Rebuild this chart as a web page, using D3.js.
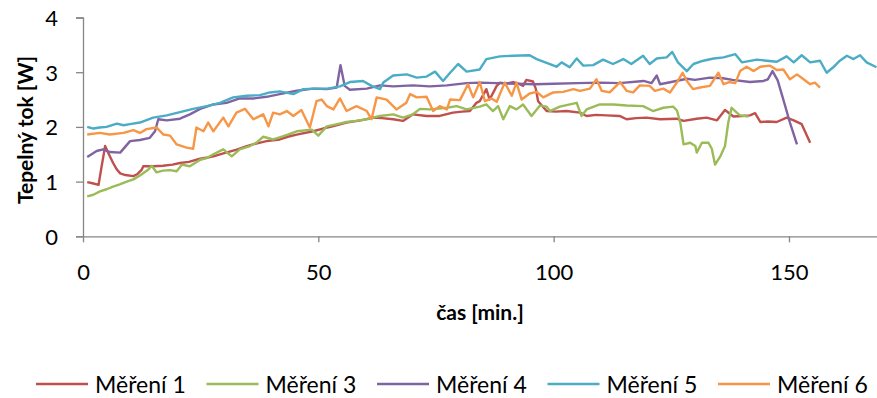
<!DOCTYPE html>
<html>
<head>
<meta charset="utf-8">
<script src="https://cdn.jsdelivr.net/npm/d3@7"></script>
<style>
  body { margin: 0; background: #fff; }
  text { font-family: Lato, "Open Sans", sans-serif; fill: #000; }
</style>
</head>
<body>
<div id="chart"></div>
<script>
// values: [time in min, heat flow in W]
const mereni1 = [[0.9,0.99],[2,0.97],[3.3,0.94],[4,1.3],[4.7,1.65],[5.5,1.5],[6.4,1.34],[7.2,1.22],[7.9,1.15],[9,1.12],[10.7,1.1],[11.6,1.14],[12.5,1.22],[12.8,1.28],[15,1.28],[17,1.29],[19,1.31],[20.6,1.34],[22.5,1.36],[24.9,1.42],[26.5,1.44],[27.7,1.46],[30,1.52],[32.5,1.58],[34.8,1.65],[37,1.7],[39,1.74],[41.8,1.77],[43.5,1.82],[45.4,1.86],[48.9,1.92],[51,1.97],[53,2.01],[56,2.08],[59,2.12],[61.7,2.17],[63.5,2.16],[65.9,2.14],[68,2.11],[70.1,2.23],[73,2.2],[75.8,2.2],[78.6,2.26],[80.5,2.28],[82.2,2.29],[83.6,2.44],[84.3,2.47],[85.7,2.69],[86.4,2.5],[87.9,2.75],[88.6,2.81],[90,2.79],[91.4,2.82],[92.8,2.78],[93.5,2.75],[94.2,2.86],[95.6,2.83],[96.2,2.7],[96.7,2.47],[98.5,2.29],[100.5,2.28],[102.7,2.29],[105.6,2.26],[107,2.2],[109,2.22],[111.2,2.21],[114,2.2],[115.5,2.14],[117.5,2.16],[119.7,2.17],[122.6,2.14],[126.1,2.15],[127.6,2.11],[130.4,2.15],[132.5,2.17],[134.7,2.12],[136.4,2.31],[138.2,2.19],[140,2.2],[141.7,2.21],[142.8,2.25],[143.9,2.09],[145.5,2.1],[147.4,2.09],[149.5,2.17],[151,2.12],[152.7,2.05],[154.5,1.71]]

const mereni3 = [[0.9,0.73],[2.2,0.76],[3.6,0.82],[5,0.86],[6.4,0.91],[7.8,0.95],[9.3,1],[10.7,1.04],[12.1,1.11],[13.9,1.22],[14.6,1.29],[15.6,1.17],[17,1.2],[18.5,1.21],[19.9,1.19],[21,1.31],[22.7,1.28],[24.9,1.4],[26.3,1.43],[27.7,1.5],[29.8,1.59],[31.6,1.46],[33.3,1.59],[35.5,1.65],[37,1.72],[38.3,1.82],[40.4,1.77],[41.8,1.81],[43.5,1.86],[45.4,1.92],[48.6,1.95],[50,1.84],[51.8,2.01],[54,2.05],[56,2.09],[58,2.11],[60.3,2.14],[63.1,2.2],[65.9,2.23],[68,2.17],[70.1,2.23],[71.6,2.33],[73.7,2.32],[77.3,2.35],[79.4,2.38],[81.5,2.32],[84.3,2.37],[85.7,2.41],[87.1,2.29],[88.2,2.38],[89.3,2.14],[90.7,2.38],[92.1,2.32],[93.5,2.41],[95.3,2.2],[97.1,2.39],[98.5,2.37],[99.2,2.29],[101.3,2.37],[104.9,2.44],[105.9,2.2],[107,2.32],[109.8,2.41],[112.7,2.41],[115.5,2.39],[119,2.38],[121.1,2.29],[123.3,2.35],[125.4,2.37],[126.2,2.3],[126.9,2.08],[127.6,1.68],[129,1.71],[130.1,1.65],[130.4,1.53],[131.5,1.71],[132.9,1.71],[133.6,1.6],[134.3,1.31],[135.4,1.46],[136.4,1.65],[137.1,2.08],[137.8,2.35],[138.9,2.26],[139.6,2.21],[141.4,2.19]]

const mereni4 = [[0.9,1.45],[2.9,1.56],[4.3,1.59],[5.7,1.54],[7.9,1.53],[10,1.74],[12.1,1.76],[14.2,1.8],[15.3,1.92],[16,2.14],[17.8,2.12],[20.6,2.15],[22.7,2.23],[24.9,2.33],[27.7,2.41],[30.5,2.44],[33.3,2.52],[36.2,2.52],[39,2.55],[41.8,2.6],[45.4,2.66],[48.9,2.7],[51.8,2.69],[53.9,2.72],[54.7,3.13],[55.6,2.75],[56.7,2.68],[60.3,2.7],[63.1,2.76],[65.9,2.74],[70.1,2.76],[73.7,2.74],[77.3,2.76],[81.5,2.8],[84.3,2.81],[88,2.8],[92,2.79],[96,2.78],[100,2.79],[105,2.8],[110,2.81],[114,2.8],[119.1,2.84],[120.8,2.8],[121.9,2.94],[122.6,2.78],[125,2.82],[128.3,2.88],[130,2.86],[133.2,2.9],[136,2.89],[138,2.86],[141.7,2.82],[144.6,2.84],[145.5,2.87],[146.5,3.02],[147.6,2.85],[148.8,2.5],[150.2,2.08],[151.7,1.68]]

const mereni5 = [[0.9,2],[2.2,1.97],[3.5,1.99],[5,2],[7.2,2.06],[8.6,2.03],[10,2.05],[12.1,2.08],[14.9,2.17],[17.8,2.21],[20.6,2.27],[23.4,2.33],[26.3,2.38],[29.1,2.44],[31.9,2.54],[34.8,2.57],[37.6,2.58],[39.7,2.63],[41.8,2.65],[44.7,2.6],[46.8,2.69],[49.6,2.7],[52,2.7],[54.6,2.74],[56.7,2.82],[59.5,2.84],[61.3,2.75],[63.1,2.69],[63.8,2.81],[65.9,2.94],[68.8,2.96],[70.9,2.9],[73,2.92],[74.8,3.01],[76.5,2.84],[78,2.99],[79.7,3.15],[81.5,3.01],[84.3,3.05],[85.7,3.24],[88.6,3.29],[91.4,3.3],[94.9,3.31],[96.4,3.24],[98.5,3.17],[100.6,3.1],[101.7,3.18],[103.4,3.09],[104.9,3.25],[106.3,3.12],[108.4,3.13],[110.5,3.23],[112.6,3.15],[114.8,3.24],[116.5,3.15],[119,3.3],[120.4,3.15],[121.9,3.25],[124,3.27],[125.2,3.37],[126.4,3.18],[128.3,3.02],[129.7,3.15],[131.8,3.21],[134,3.25],[136.1,3.27],[138.6,3.33],[140,3.18],[143.2,3.23],[145.3,3.21],[147.4,3.19],[149.5,3.29],[151,3.18],[152.7,3.31],[154.5,3.18],[156.6,3.21],[158,2.99],[159.4,3.09],[160.8,3.21],[162.3,3.3],[163.7,3.24],[165.1,3.31],[166.5,3.18],[168.6,3.09]]

const mereni6 = [[0.9,1.86],[3.6,1.89],[5.7,1.86],[8.6,1.89],[10.7,1.94],[12.1,1.89],[13.5,1.96],[15.6,1.99],[17.1,1.86],[18.5,1.84],[19.9,1.68],[22,1.62],[23.4,1.6],[24.1,1.99],[25.6,1.92],[26.6,2.08],[27.7,1.92],[29.8,2.17],[30.9,2.01],[32.6,2.26],[34.4,2.33],[36.2,2.14],[38.3,2.23],[39.4,2.01],[40.4,2.26],[41.8,2.23],[43.3,2.29],[44.7,2.2],[46.4,2.31],[48.2,1.99],[49.6,2.47],[50.7,2.5],[51.8,2.38],[53.2,2.32],[54.6,2.52],[56,2.29],[58.1,2.38],[60.3,2.29],[61.3,2.14],[62.4,2.54],[64.5,2.5],[66.6,2.32],[68.7,2.44],[69.5,2.6],[70.9,2.54],[73,2.55],[74.4,2.29],[75.8,2.38],[77.3,2.32],[78,2.5],[80.1,2.49],[81.8,2.78],[82.9,2.54],[84.3,2.82],[85.4,2.47],[86.8,2.52],[87.9,2.46],[89.6,2.81],[91.1,2.57],[92.1,2.81],[93.2,2.5],[94.9,2.61],[96.4,2.64],[97.8,2.54],[99.9,2.63],[102,2.64],[104.2,2.69],[105.6,2.66],[107.7,2.7],[109.1,2.87],[110.2,2.66],[111.9,2.63],[114.1,2.82],[115.5,2.66],[116.9,2.63],[118.3,2.76],[120.4,2.75],[121.5,2.66],[123.3,2.7],[124.7,2.63],[126.1,2.8],[127.4,2.99],[128.3,2.84],[129.6,2.69],[131.1,2.72],[133.2,2.75],[135,2.99],[136.1,2.78],[137.3,2.82],[138.6,2.8],[139.6,3.02],[141,3.1],[142.5,3.02],[143.9,3.1],[146,3.12],[147.4,3.04],[148.8,3.05],[150.2,2.87],[151.7,2.96],[153.1,2.87],[154.5,2.78],[155.5,2.81],[156.6,2.72]]

const seriesNames = ["Měření 1", "Měření 3", "Měření 4", "Měření 5", "Měření 6"]
const seriesData = [mereni1, mereni3, mereni4, mereni5, mereni6]
const seriesColors = ["#c0504d", "#9bbb59", "#8064a2", "#4bacc6", "#f79646"]
const xTicks = [0, 50, 100, 150]
const yTicks = [0, 1, 2, 3, 4]

const width = 877
const height = 398
const margin = {top: 17.5, right: 0, bottom: 161.7, left: 83}
const chartWidth = width - margin.left - margin.right
const chartHeight = height - margin.top - margin.bottom
const axisColor = "#868686"

const svg = d3.select("#chart")
  .append("svg")
    .attr("width", width)
    .attr("height", height)

const g = svg.append("g")
    .attr("transform", "translate(" + margin.left + "," + margin.top + ")")

const xScale = d3.scaleLinear().domain([0, 168.7]).range([0, chartWidth])
const yScale = d3.scaleLinear().domain([0, 4]).range([chartHeight, 0])

// y axis
const yAxis = g.append("g")
  .call(d3.axisLeft(yScale).tickValues(yTicks).tickSize(7).tickPadding(18).tickFormat(d3.format("d")))
yAxis.select(".domain").attr("stroke", axisColor).attr("stroke-width", 1.3)
yAxis.selectAll(".tick line").attr("stroke", axisColor).attr("stroke-width", 1.3)
yAxis.selectAll(".tick text")
  .style("font-family", "Lato, sans-serif")
  .style("font-size", "22px")
  .attr("fill", "#000")
  .attr("dy", "0.36em")

// x axis
const xAxis = g.append("g")
  .attr("transform", "translate(0," + chartHeight + ")")
  .call(d3.axisBottom(xScale).tickValues(xTicks).tickSize(6).tickPadding(22).tickSizeOuter(0))
xAxis.select(".domain").attr("stroke", axisColor).attr("stroke-width", 1.3)
xAxis.selectAll(".tick line").attr("stroke", axisColor).attr("stroke-width", 1.3)
xAxis.selectAll(".tick text")
  .style("font-family", "Lato, sans-serif")
  .style("font-size", "22px")
  .attr("fill", "#000")

// axis titles
svg.append("text")
  .attr("transform", "translate(33,130) rotate(-90)")
  .attr("text-anchor", "middle")
  .style("font-size", "21px")
  .style("font-weight", "bold")
  .text("Tepelný tok [W]")

svg.append("text")
  .attr("x", margin.left + chartWidth / 2)
  .attr("y", 320)
  .attr("text-anchor", "middle")
  .style("font-size", "21px")
  .style("font-weight", "bold")
  .text("čas [min.]")

// clip the lines to the plot area
g.append("defs")
  .append("clipPath")
  .attr("id", "clip")
  .append("rect")
  .attr("x", 0)
  .attr("y", -5)
  .attr("width", chartWidth)
  .attr("height", chartHeight + 5)

const lineGenerator = d3.line()
  .x(d => xScale(d[0]))
  .y(d => yScale(d[1]))

const lines = g.append("g").attr("clip-path", "url(#clip)")
seriesData.forEach((items, i) => {
  lines.append("path")
    .datum(items)
    .attr("fill", "none")
    .attr("stroke", seriesColors[i])
    .attr("stroke-width", 2.4)
    .attr("stroke-linejoin", "round")
    .attr("d", lineGenerator)
})

// legend
const legend = svg.append("g").attr("transform", "translate(36,384)")
seriesNames.forEach((name, i) => {
  const item = legend.append("g").attr("transform", "translate(" + (i * 170.5) + ",0)")
  item.append("line")
    .attr("x1", 0).attr("x2", 52)
    .attr("y1", 0).attr("y2", 0)
    .attr("stroke", seriesColors[i])
    .attr("stroke-width", 2.4)
  item.append("text")
    .attr("x", 59)
    .attr("y", 8.5)
    .style("font-size", "23px")
    .text(name)
})
</script>
</body>
</html>
